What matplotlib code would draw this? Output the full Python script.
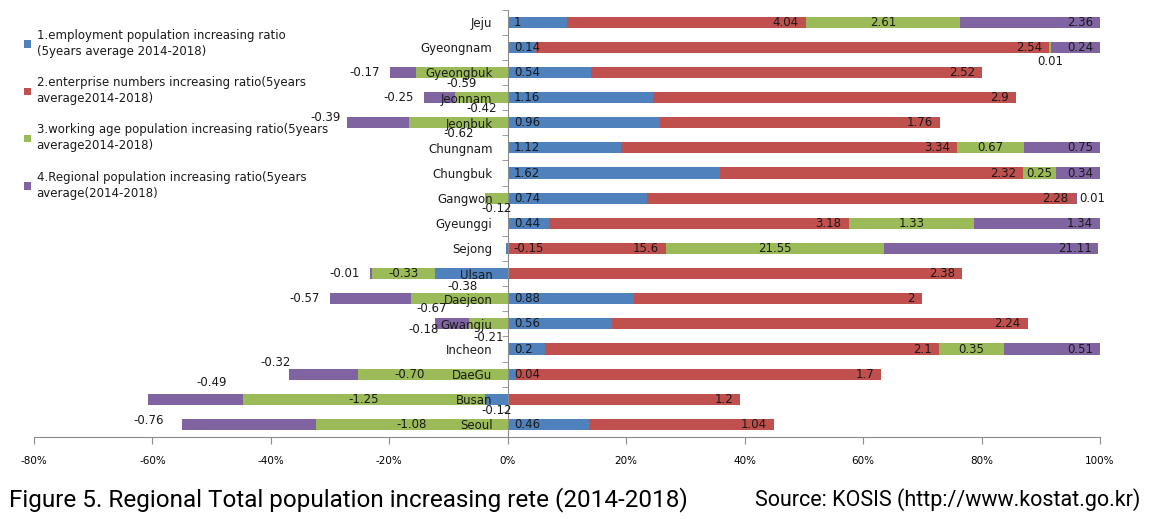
import numpy as np
import matplotlib.pyplot as plt
from matplotlib.ticker import FixedLocator, FuncFormatter

# ---- data (5-year averages 2014-2018) ----
regions = ['Jeju', 'Gyeongnam', 'Gyeongbuk', 'Jeonnam', 'Jeonbuk', 'Chungnam',
           'Chungbuk', 'Gangwon', 'Gyeunggi', 'Sejong', 'Ulsan', 'Daejeon',
           'Gwangju', 'Incheon', 'DaeGu', 'Busan', 'Seoul']
employment = ['1', '0.14', '0.54', '1.16', '0.96', '1.12', '1.62', '0.74', '0.44',
              '-0.15', '-0.38', '0.88', '0.56', '0.2', '0.04', '-0.12', '0.46']
enterprise = ['4.04', '2.54', '2.52', '2.9', '1.76', '3.34', '2.32', '2.28', '3.18',
              '15.6', '2.38', '2', '2.24', '2.1', '1.7', '1.2', '1.04']
working_age = ['2.61', '0.01', '-0.59', '-0.42', '-0.62', '0.67', '0.25', '-0.12', '1.33',
               '21.55', '-0.33', '-0.67', '-0.21', '0.35', '-0.70', '-1.25', '-1.08']
regional_pop = ['2.36', '0.24', '-0.17', '-0.25', '-0.39', '0.75', '0.34', '0.01', '1.34',
                '21.11', '-0.01', '-0.57', '-0.18', '0.51', '-0.32', '-0.49', '-0.76']

series_names = ['1.employment population increasing ratio\n(5years average 2014-2018)',
                '2.enterprise numbers increasing ratio(5years\naverage2014-2018)',
                '3.working age population increasing ratio(5years\naverage2014-2018)',
                '4.Regional population increasing ratio(5years\naverage(2014-2018)']
colors = ['#4F81BD', '#C0504D', '#9BBB59', '#8064A2']

series = [employment, enterprise, working_age, regional_pop]
vals = np.array([[float(v) for v in s] for s in series])   # 4 x 17
share = vals / np.abs(vals).sum(axis=0) * 100               # 100% diverging stack

# label placement: default per series, plus hand-moved labels
default_mode = ['base', 'end', 'center', 'end']
moved = {
    (0, 'Ulsan'): ('center', -9, 13), (0, 'Busan'): ('center', 0, 11),
    (2, 'Gyeongnam'): ('center', 0, 14), (2, 'Gyeongbuk'): ('center', 0, 11),
    (2, 'Jeonnam'): ('center', 0, 11), (2, 'Jeonbuk'): ('center', 0, 11),
    (2, 'Gangwon'): ('center', 0, 10), (2, 'Daejeon'): ('center', -28, 10),
    (2, 'Gwangju'): ('center', 0, 14), (2, 'DaeGu'): ('center', -23, 0),
    (3, 'Gangwon'): ('outr', 1, 0), (3, 'Jeonbuk'): ('out', 3, -5),
    (3, 'Gwangju'): ('out', 13, 6), (3, 'DaeGu'): ('out', 12, -12),
    (3, 'Busan'): ('center', 16, -17), (3, 'Seoul'): ('out', -8, -4),
}

plt.rcParams['font.family'] = ['DejaVu Sans']
fig = plt.figure(figsize=(11.56, 5.19), dpi=100)
ax = fig.add_axes([34 / 1156, 82 / 519, 1066 / 1156, 427.4 / 519])

y = np.arange(len(regions))
pos_left = np.zeros(len(regions))
neg_left = np.zeros(len(regions))
handles = []
for i in range(4):
    w = share[i]
    left = np.where(w >= 0, pos_left, neg_left)
    h = ax.barh(y, w, left=left, height=0.44, color=colors[i], zorder=1)
    handles.append(h)
    for j, r in enumerate(regions):
        start, end = left[j], left[j] + w[j]
        mode, dx, dy = moved.get((i, r), (default_mode[i], 0, 0))
        if mode == 'end' and w[j] < 0:
            mode = 'out'
        if mode == 'base':
            x, ha, ox = 0, 'left', 6
        elif mode == 'end':
            x, ha, ox = end, 'right', -7
        elif mode == 'center':
            x, ha, ox = (start + end) / 2, 'center', 0
        elif mode == 'out':
            x, ha, ox = end, 'right', -10
        else:  # outr
            x, ha, ox = end, 'left', 1
        ax.annotate(series[i][j], (x, y[j]), xytext=(ox + dx, -dy),
                    textcoords='offset pixels', ha=ha, va='center',
                    fontsize=8.5, color='#1a1a1a', zorder=4)
    pos_left = np.where(w >= 0, pos_left + w, pos_left)
    neg_left = np.where(w < 0, neg_left + w, neg_left)

ax.set_xlim(-80, 100)
ax.set_ylim(len(regions) - 0.5, -0.5)

for s in ['top', 'right']:
    ax.spines[s].set_visible(False)
ax.spines['left'].set_position(('data', 0))
ax.spines['left'].set_color('#8c8c8c')
ax.spines['bottom'].set_color('#8c8c8c')
ax.spines['left'].set_zorder(3)

ax.set_yticks(y)
ax.set_yticklabels(regions, fontsize=8.5, color='#1a1a1a')
ax.yaxis.set_minor_locator(FixedLocator(np.arange(-0.5, len(regions), 1)))
ax.tick_params(axis='y', which='major', length=0, pad=11)
ax.tick_params(axis='y', which='minor', length=4, color='#8c8c8c', direction='out')
ax.yaxis.set_zorder(3)

ax.set_xticks(np.arange(-80, 101, 20))
ax.xaxis.set_major_formatter(FuncFormatter(lambda v, p: f'{v:.0f}%'))
ax.tick_params(axis='x', length=5, color='#8c8c8c', labelsize=7.5, pad=9)

leg = fig.legend(handles, series_names, loc='upper left',
                 bbox_to_anchor=(19 / 1156, 1 - 24 / 519), frameon=False,
                 fontsize=8.5, handlelength=0.6, handleheight=0.6,
                 handletextpad=0.5, labelspacing=1.55, borderaxespad=0)
for t in leg.get_texts():
    t.set_linespacing(1.3)
    t.set_color('#1a1a1a')

cap_font = ['Roboto', 'DejaVu Sans']
cap = fig.text(9 / 1156, 19 / 519,
               'Figure 5. Regional Total population increasing rete (2014-2018)',
               fontsize=17.5, family=cap_font, va='center', ha='left')
src = fig.text(1140 / 1156, 19 / 519, 'Source: KOSIS (http://www.kostat.go.kr)',
               fontsize=15.5, family=cap_font, va='center', ha='right')

# shrink the caption texts if the font is wider than the original layout
fig.canvas.draw()
r = fig.canvas.get_renderer()
for t, target in [(cap, 706), (src, 388)]:
    wpx = t.get_window_extent(r).width
    if wpx > target:
        t.set_fontsize(t.get_fontsize() * target / wpx)

fig.savefig('out.png', dpi=100)
